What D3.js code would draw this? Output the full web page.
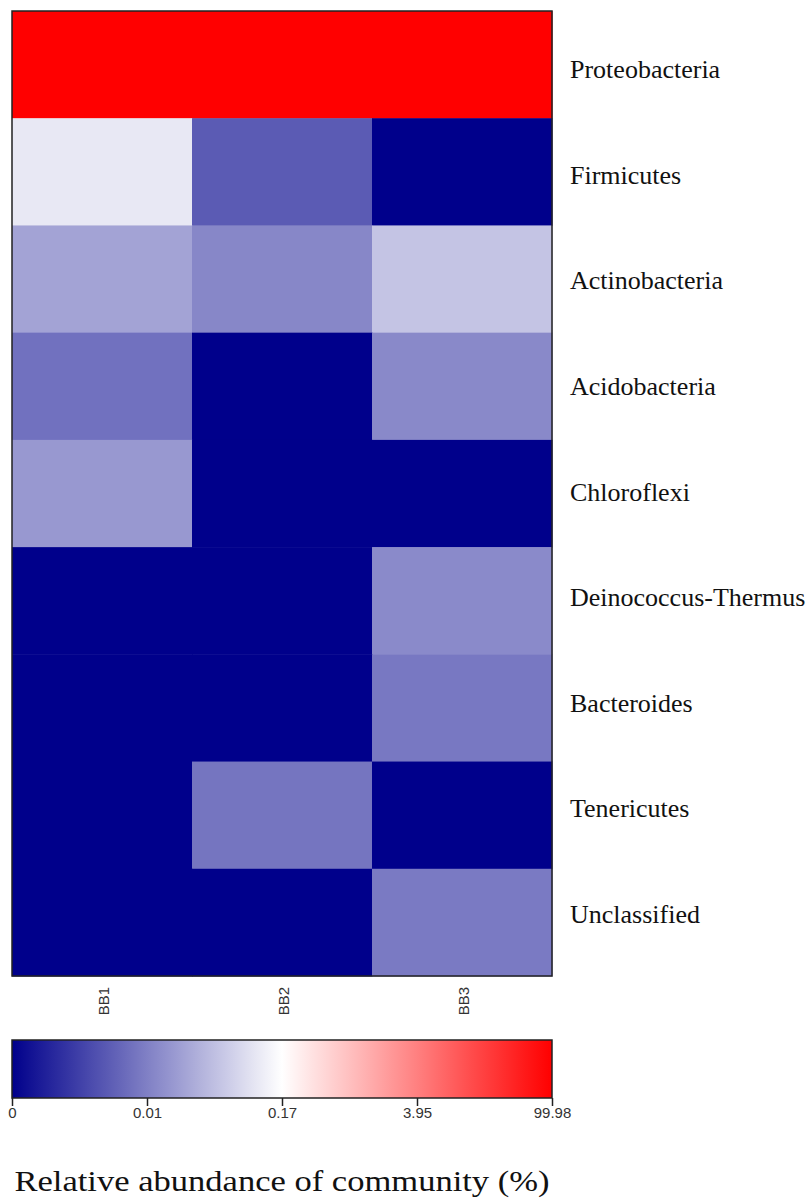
<!DOCTYPE html>
<html><head><meta charset="utf-8">
<script src="https://cdn.jsdelivr.net/npm/d3@7"></script>
<style>body{margin:0;background:#fff}</style>
</head><body>
<svg id="c" width="812" height="1198"></svg>
<script>
const samples = ["BB1","BB2","BB3"];
const phyla = ["Proteobacteria","Firmicutes","Actinobacteria","Acidobacteria","Chloroflexi","Deinococcus-Thermus","Bacteroides","Tenericutes","Unclassified"];
// relative abundance (%) per phylum, columns BB1, BB2, BB3
const valProteobacteria = [99.98, 99.98, 99.98];
const valFirmicutes = [0.141, 0.0071, 0];
const valActinobacteria = [0.055, 0.0196, 0.096];
const valAcidobacteria = [0.0089, 0, 0.022];
const valChloroflexi = [0.0406, 0, 0];
const valDeinococcus = [0, 0, 0.023];
const valBacteroides = [0, 0, 0.0094];
const valTenericutes = [0, 0.0092, 0];
const valUnclassified = [0, 0, 0.0096];
const values = [valProteobacteria, valFirmicutes, valActinobacteria, valAcidobacteria, valChloroflexi, valDeinococcus, valBacteroides, valTenericutes, valUnclassified];
const legendTicks = [0, 0.01, 0.17, 3.95, 99.98];
const legendTickLabels = ["0","0.01","0.17","3.95","99.98"];

const svg = d3.select("#c");
const L = 12, R = 552, T = 11, B = 976;
const x = d3.scaleBand().domain(samples).range([L, R]);
const y = d3.scaleBand().domain(phyla).range([T, B]);
const pos = d3.scaleLinear().domain(legendTicks).range([0, 0.25, 0.5, 0.75, 1]).clamp(true);
const col = d3.scaleLinear().domain([0, 0.5, 1]).range(["#00008b", "#ffffff", "#ff0000"]).interpolate(d3.interpolateRgb);
const color = v => col(pos(v));

const cells = [];
phyla.forEach((p, i) => samples.forEach((s, j) => cells.push({p, s, v: values[i][j]})));
svg.append("g").selectAll("rect").data(cells).join("rect")
  .attr("x", d => x(d.s)).attr("y", d => y(d.p))
  .attr("width", x.bandwidth() + 0.5).attr("height", y.bandwidth() + 0.5)
  .attr("fill", d => color(d.v));
svg.append("rect").attr("x", L).attr("y", T).attr("width", R - L).attr("height", B - T)
  .attr("fill", "none").attr("stroke", "#222").attr("stroke-width", 1.5);

// row labels
const yl = d3.scalePoint().domain(phyla).range([70, 915]);
svg.append("g").selectAll("text").data(phyla).join("text")
  .attr("x", 570).attr("y", d => yl(d) + 8)
  .attr("font-family", "Liberation Serif, Times New Roman, serif").attr("font-size", 26)
  .attr("fill", "#111").text(d => d);

// column labels
svg.append("g").selectAll("text").data(samples).join("text")
  .attr("transform", d => `translate(${x(d) + x.bandwidth() / 2 + 7},1001) rotate(-90)`)
  .attr("text-anchor", "middle")
  .attr("font-family", "Liberation Sans, Arial, sans-serif").attr("font-size", 15)
  .attr("fill", "#333").text(d => d);

// legend
const LT = 1040, LB = 1098;
const defs = svg.append("defs");
const grad = defs.append("linearGradient").attr("id", "g").attr("x1", "0%").attr("x2", "100%");
d3.range(0, 1.0001, 0.05).forEach(t => grad.append("stop").attr("offset", (t * 100) + "%").attr("stop-color", col(t)));
svg.append("rect").attr("x", L).attr("y", LT).attr("width", R - L).attr("height", LB - LT)
  .attr("fill", "url(#g)").attr("stroke", "#222").attr("stroke-width", 1.5);
const lx = d3.scalePoint().domain(legendTickLabels).range([L, R]);
const axis = d3.axisBottom(lx).tickSize(8).tickSizeOuter(0);
const ag = svg.append("g").attr("transform", `translate(0,${LB})`).call(axis);
ag.select(".domain").remove();
ag.selectAll(".tick line").attr("stroke", "#222").attr("stroke-width", 1.5);
ag.selectAll(".tick text").attr("font-family", "Liberation Sans, Arial, sans-serif").attr("font-size", 15)
  .attr("fill", "#333").attr("dy", "0.6em");

svg.append("text").attr("x", 282).attr("y", 1191).attr("text-anchor", "middle")
  .attr("font-family", "Liberation Serif, Times New Roman, serif").attr("font-size", 30)
  .attr("textLength", 535).attr("lengthAdjust", "spacingAndGlyphs")
  .attr("fill", "#111").text("Relative abundance of community (%)");
</script>
</body></html>
